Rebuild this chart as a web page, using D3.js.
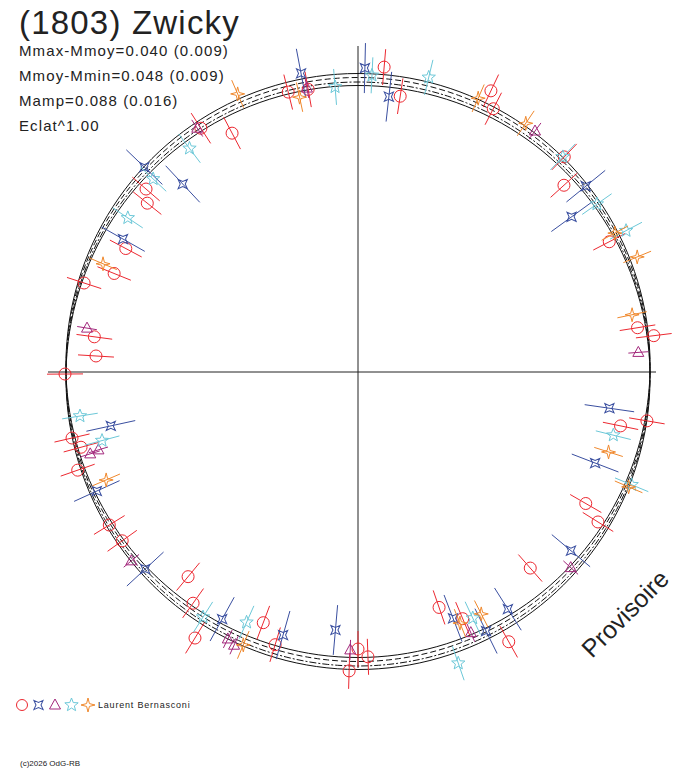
<!DOCTYPE html>
<html><head><meta charset="utf-8">
<script src="https://cdn.jsdelivr.net/npm/d3@7"></script>
<style>body{margin:0;background:#fff}svg{font-family:"Liberation Sans",Arial,sans-serif}</style>
</head><body><div id="chart"></div>
<script>
// phase angle (deg, clockwise from top) and magnitude offset (mag) for each observer series
const redAng = [346,4.9,8.7,350,25.3,27.2,43.8,47.8,62.6,81,83,99.6,101.6,120,122,138.7,150.8,161,157,178,180,181.7,196.9,200.7,211.5,215.5,219.7,234.4,238.4,250.7,254.8,257,269.6,273.5,277.6,288,292,298,308.7,310.8,327.2,332.2];
const redMag = [-0.007,0.028,-0.026,-0.010,0.038,0.008,0.012,-0.028,-0.018,-0.018,0.012,0.002,-0.048,-0.058,-0.018,-0.062,0.034,-0.086,-0.048,-0.014,-0.030,0.014,-0.014,-0.048,0.040,-0.016,-0.052,-0.004,0,0.010,-0.010,0.003,0.002,-0.059,-0.052,-0.008,-0.058,-0.058,-0.044,-0.024,-0.004,-0.044];
const blueAng = [349.2,1.3,6.4,50.8,54,98.2,111,130,147.7,153.7,158.9,185,195.9,208.8,227.2,245.5,257.7,299.5,313.8,317];
const blueMag = [0.024,0.024,-0.030,0.004,-0.056,-0.076,-0.076,-0.028,-0.023,-0.006,-0.056,-0.066,-0.037,-0.020,-0.004,-0.010,-0.078,-0.044,0.008,-0.070];
const purpleAng = [349.8,326.6,36.3,86,132.6,156.6,181.6,204.4,206,230.2,253.3,253,279.2];
const purpleMag = [-0.007,0,0.014,-0.022,-0.006,-0.016,-0.028,0.016,0.010,0.006,-0.042,-0.024,-0.035];
const cyanAng = [355.4,2.7,13.5,43.6,54.9,62.2,103.9,112.4,155,161,204,212.3,255,261,303.8,313.3,323];
const cyanMag = [-0.012,0.010,0.022,0.010,0,0.022,-0.058,0.008,-0.041,0.032,-0.036,-0.004,-0.054,-0.021,-0.030,-0.021,-0.024];
const orangeAng = [336.6,348,23.7,34,61.6,67.6,78.2,107.7,113,153,157.9,202.8,246.8,293];
const orangeMag = [0.022,-0.022,0.014,0.016,0,0.020,-0.024,-0.058,0.004,-0.041,-0.042,0.008,-0.036,-0.030];
const seriesErr = [0.036, 0.05, 0.02, 0.036, 0.03];
// fitted curves: mag = a * cos(phase)
const curveAmp = [0.013, -0.011, 0.005, -0.004];
const curveDash = [null, null, "6,3", "7,2,2,2"];
const statLines = ["Mmax-Mmoy=0.040 (0.009)", "Mmoy-Mmin=0.048 (0.009)", "Mamp=0.088 (0.016)", "Eclat^1.00"];

const W = 688, H = 768, cx = 358, cy = 372;
const svg = d3.select("#chart").append("svg").attr("width", W).attr("height", H);
const rScale = d3.scaleLinear().domain([-0.1, 0.1]).range([242, 342]);
const rad = d => d * Math.PI / 180;
const px = (a, r) => cx + r * Math.sin(rad(a));
const py = (a, r) => cy - r * Math.cos(rad(a));

// axes
svg.append("line").attr("x1", 48).attr("x2", 656).attr("y1", cy).attr("y2", cy).attr("stroke", "#222");
svg.append("line").attr("x1", cx).attr("x2", cx).attr("y1", 46).attr("y2", 668).attr("stroke", "#222");

// curves
const angles = d3.range(0, 360, 2);
curveAmp.forEach((a, i) => {
  const line = d3.lineRadial().angle(t => rad(t)).radius(t => rScale(a * Math.cos(rad(t)))).curve(d3.curveCardinalClosed);
  svg.append("path").attr("transform", `translate(${cx},${cy})`)
    .attr("d", line(angles))
    .attr("fill", "none").attr("stroke", "#111").attr("stroke-width", 1)
    .attr("stroke-dasharray", curveDash[i]);
});

const star = (n, ro, ri) => {
  const p = [];
  for (let k = 0; k < 2 * n; k++) {
    const r = k % 2 ? ri : ro, t = Math.PI * k / n;
    p.push([r * Math.sin(t), -r * Math.cos(t)]);
  }
  return "M" + p.join("L") + "Z";
};
const shapes = [null, star(4, 6.5, 2.5), "M0,-6L5.5,4L-5.5,4Z", star(5, 7, 3), star(4, 7, 2)];
const series = [
  {ang: redAng, mag: redMag, color: "#ec2830"},
  {ang: blueAng, mag: blueMag, color: "#3a4fa0", rot: 45},
  {ang: purpleAng, mag: purpleMag, color: "#a3287c"},
  {ang: cyanAng, mag: cyanMag, color: "#6cc8d8"},
  {ang: orangeAng, mag: orangeMag, color: "#f0882c"}
];

series.forEach((s, si) => {
  const g = svg.append("g");
  const pts = s.ang.map((a, i) => ({a, m: s.mag[i]}));
  g.selectAll("line").data(pts).enter().append("line")
    .attr("x1", d => px(d.a, rScale(d.m - seriesErr[si])))
    .attr("y1", d => py(d.a, rScale(d.m - seriesErr[si])))
    .attr("x2", d => px(d.a, rScale(d.m + seriesErr[si])))
    .attr("y2", d => py(d.a, rScale(d.m + seriesErr[si])))
    .attr("stroke", s.color).attr("stroke-width", 1);
  if (si === 0) {
    g.selectAll("circle").data(pts).enter().append("circle")
      .attr("cx", d => px(d.a, rScale(d.m))).attr("cy", d => py(d.a, rScale(d.m)))
      .attr("r", 6).attr("fill", "none").attr("stroke", s.color);
  } else {
    g.selectAll("path").data(pts).enter().append("path")
      .attr("d", shapes[si])
      .attr("transform", d => `translate(${px(d.a, rScale(d.m))},${py(d.a, rScale(d.m))}) rotate(${s.rot || 0})`)
      .attr("fill", "none").attr("stroke", s.color);
  }
});

// texts
svg.append("text").attr("x", 19).attr("y", 34).attr("font-size", 33).attr("letter-spacing", 1.2).attr("fill", "#222").text("(1803) Zwicky");
svg.selectAll(".stat").data(statLines).enter().append("text")
  .attr("x", 19).attr("y", (d, i) => 56 + i * 25).attr("font-size", 15).attr("letter-spacing", 1.1).attr("fill", "#222").text(d => d);
svg.append("text").attr("transform", "translate(592,659) rotate(-45)")
  .attr("font-size", 25).attr("fill", "#222").text("Provisoire");

// legend
const legend = svg.append("g");
series.forEach((s, si) => {
  const x = 22 + si * 16.5, y = 705;
  if (si === 0) legend.append("circle").attr("cx", x).attr("cy", y).attr("r", 5.5).attr("fill", "none").attr("stroke", s.color);
  else legend.append("path").attr("d", shapes[si]).attr("transform", `translate(${x},${y}) rotate(${s.rot || 0})`)
    .attr("fill", "none").attr("stroke", s.color);
});
legend.append("text").attr("x", 98).attr("y", 708).attr("font-size", 9).attr("letter-spacing", 0.8).attr("fill", "#222").text("Laurent Bernasconi");
svg.append("text").attr("x", 20).attr("y", 766).attr("font-size", 8).attr("fill", "#222").text("(c)2026 OdG-RB");
</script></body></html>
